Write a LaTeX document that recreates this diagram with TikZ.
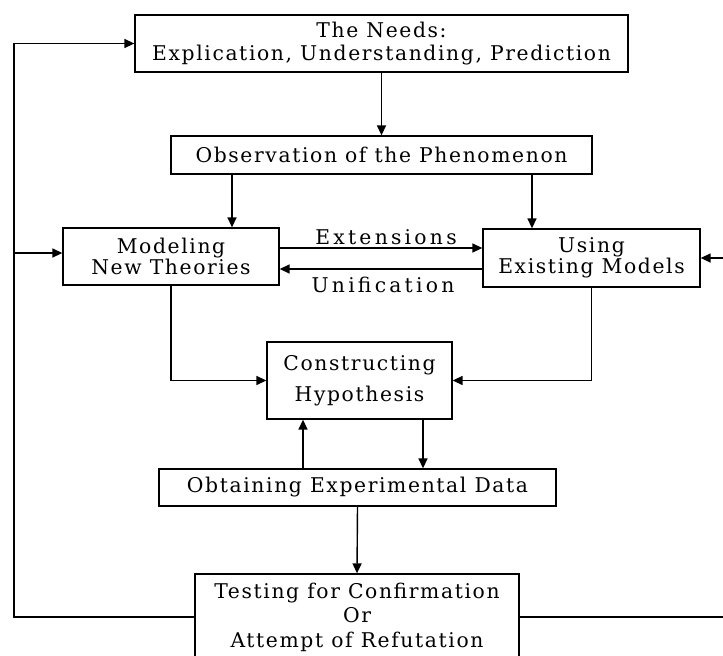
\documentclass[tikz,border=0pt]{standalone}
\usepackage{fontspec}
\setmainfont{DejaVu Serif}[LetterSpace=8]
\usetikzlibrary{arrows.meta}
\begin{document}
\begin{tikzpicture}[x=1pt,y=-1pt,
  box/.style={draw, line width=1.3pt, inner sep=0pt, align=center,
              font=\fontsize{20.3}{23}\selectfont},
  conn/.style={line width=1.4pt, -{Triangle[length=10pt,width=9pt]}},
  lbl/.style={inner sep=0pt, font=\fontsize{20.3}{23}\selectfont\addfontfeature{LetterSpace=16}}]
\fill[white] (0,0) rectangle (723,656);
\useasboundingbox (0,0) rectangle (723,656);
\clip (0,0) rectangle (723,656);

\node[box, minimum width=493pt, minimum height=57pt] (needs) at (381.5,43.5)
  {The Needs:\\Explication, Understanding, Prediction};
\node[box, minimum width=421pt, minimum height=38pt] (obs) at (381.5,155)
  {Observation of the Phenomenon};
\node[box, minimum width=216pt, minimum height=57pt] (mod) at (171,256.5)
  {Modeling\\[-2pt]New Theories};
\node[box, minimum width=217pt, minimum height=58pt] (use) at (591.5,258)
  {Using\\[-2pt]Existing Models};
\node[box, minimum width=185pt, minimum height=77pt] (hyp) at (359.5,380.5)
  {Constructing\\[8pt]Hypothesis};
\node[box, minimum width=397pt, minimum height=37pt] (data) at (357.5,487.5)
  {Obtaining Experimental Data};
\node[box, minimum width=324pt, minimum height=86pt] (test) at (357,617)
  {Testing for Confirmation\\[1.5pt]Or\\[1.5pt]Attempt of Refutation};

\node[lbl] (ext) at (386,237) {Extensions};
\node[lbl] (uni) at (383,285) {Unification};

\coordinate (xL) at (232,0);
\coordinate (xR) at (532,0);
\coordinate (xup) at (303,0);
\coordinate (xdn) at (423,0);
\coordinate (xfar) at (14,0);
\coordinate (xext) at (740,0);
\coordinate (yext) at (0,248);
\coordinate (yuni) at (0,269);
\coordinate (ybr) at (0,253);

\draw[conn] (needs.south) -- (obs.north);
\draw[conn] (obs.south -| xL) -- (mod.north -| xL);
\draw[conn] (obs.south -| xR) -- (use.north -| xR);
\draw[conn] (mod.east |- yext) -- (use.west |- yext);
\draw[conn] (use.west |- yuni) -- (mod.east |- yuni);
\draw[conn] (mod.south) |- (hyp.west);
\draw[conn] (use.south) |- (hyp.east);
\draw[conn] (data.north -| xup) -- (hyp.south -| xup);
\draw[conn] (hyp.south -| xdn) -- (data.north -| xdn);
\draw[conn] (data.south) -- (test.north);
\draw[conn] (test.west) -- (test.west -| xfar) -- (needs.west -| xfar) -- (needs.west);
\draw[conn] (xfar |- ybr) -- (mod.west |- ybr);
\draw[conn] (test.east) -- (test.east -| xext) -- (use.east -| xext) -- (use.east);
\end{tikzpicture}
\end{document}
